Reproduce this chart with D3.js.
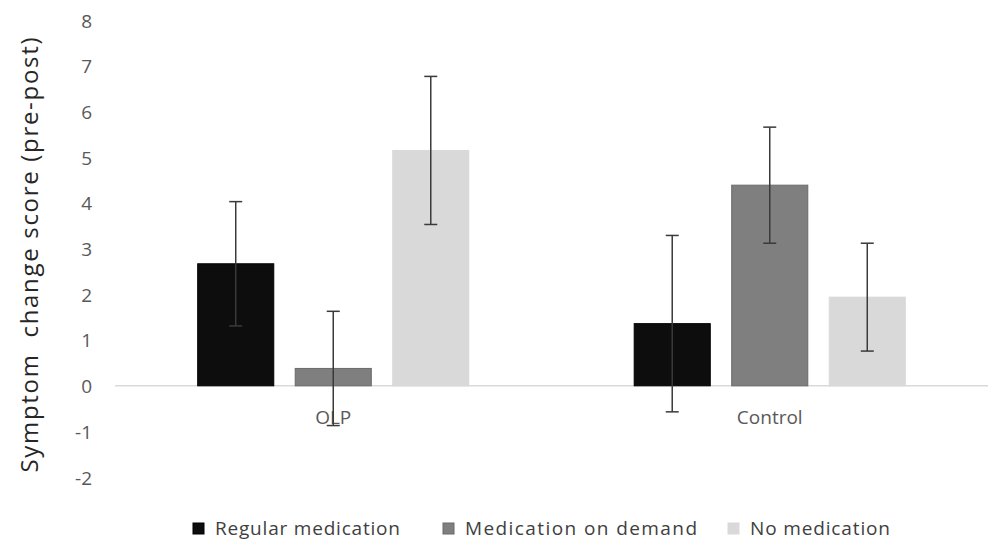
<!DOCTYPE html>
<html>
<head>
<meta charset="utf-8">
<script src="https://cdn.jsdelivr.net/npm/d3@7"></script>
<style>
  html, body { margin: 0; padding: 0; background: #fff; }
  svg { display: block; font-family: "Open Sans", "Noto Sans", sans-serif; }
</style>
</head>
<body>
<svg id="chart" width="989" height="542"></svg>
<script>
const categories = ["OLP", "Control"];
const seriesNames = ["Regular medication", "Medication on demand", "No medication"];
const means = [
  [2.67, 0.38, 5.15],
  [1.36, 4.39, 1.94]
];
const errors = [
  [1.36, 1.25, 1.62],
  [1.93, 1.27, 1.18]
];
const yTicks = [-2, -1, 0, 1, 2, 3, 4, 5, 6, 7, 8];
const yTickLabels = ["-2", "-1", "0", "1", "2", "3", "4", "5", "6", "7", "8"];
const yTitle = "Symptom\u00a0\u00a0change score (pre-post)";
const colors = ["#0d0d0d", "#7f7f7f", "#d9d9d9"];
const strokes = ["#000000", "#6a6a6a", "#d9d9d9"];

const svg = d3.select("#chart");

const x0 = d3.scaleBand().domain(categories).range([115, 988]).paddingInner(0).paddingOuter(0);
const x1 = d3.scaleBand().domain(seriesNames).range([0, x0.bandwidth()]).paddingInner(0.22).paddingOuter(0.848);
const y = d3.scaleLinear().domain([-2, 8]).range([477.2, 20.2]);

// y tick labels
const yAxis = d3.axisLeft(y).tickValues(yTicks).tickSize(0).tickPadding(0)
  .tickFormat((d, i) => yTickLabels[i]);
const gy = svg.append("g").attr("transform", "translate(92,0)").call(yAxis);
gy.select(".domain").remove();
gy.selectAll("text").attr("fill", "#595959").style("font-size", "19px").attr("dy", "0.36em")
  .style("font-family", "'Open Sans', sans-serif");

// zero line
svg.append("line")
  .attr("x1", x0.range()[0]).attr("x2", x0.range()[1])
  .attr("y1", y(0)).attr("y2", y(0))
  .attr("stroke", "#d9d9d9").attr("stroke-width", 1.5);

// category labels
categories.forEach(c => {
  svg.append("text")
    .attr("x", x0(c) + x0.bandwidth() / 2)
    .attr("y", 424)
    .attr("text-anchor", "middle")
    .attr("fill", "#595959")
    .style("font-size", "19px")
    .text(c);
});

// bars
const groups = svg.selectAll("g.grp").data(categories).enter().append("g")
  .attr("class", "grp").attr("transform", c => `translate(${x0(c)},0)`);

groups.each(function(c, ci) {
  const g = d3.select(this);
  seriesNames.forEach((s, si) => {
    const v = means[ci][si];
    g.append("rect")
      .attr("x", x1(s))
      .attr("width", x1.bandwidth())
      .attr("y", Math.min(y(v), y(0)))
      .attr("height", Math.abs(y(v) - y(0)))
      .attr("fill", colors[si])
      .attr("stroke", strokes[si])
      .attr("stroke-width", 1);
  });
});

// error bars
groups.each(function(c, ci) {
  const g = d3.select(this);
  seriesNames.forEach((s, si) => {
    const v = means[ci][si], e = errors[ci][si];
    const cx = x1(s) + x1.bandwidth() / 2;
    const hi = y(v + e), lo = y(v - e);
    g.append("line").attr("x1", cx).attr("x2", cx).attr("y1", hi).attr("y2", lo)
      .attr("stroke", "#3a3a3a").attr("stroke-width", 1.5);
    [hi, lo].forEach(yy => {
      g.append("line").attr("x1", cx - 6.5).attr("x2", cx + 6.5).attr("y1", yy).attr("y2", yy)
        .attr("stroke", "#3a3a3a").attr("stroke-width", 1.5);
    });
  });
});

// y axis title
svg.append("text")
  .attr("transform", "translate(38,255) rotate(-90)")
  .attr("text-anchor", "middle")
  .attr("fill", "#262626")
  .style("font-size", "24px")
  .attr("textLength", 435)
  .attr("lengthAdjust", "spacing")
  .text(yTitle);

// legend
const legendX = [193, 443, 728];
const legendLen = [185, 232, 140];
seriesNames.forEach((s, si) => {
  svg.append("rect").attr("x", legendX[si]).attr("y", 523).attr("width", 11).attr("height", 11)
    .attr("fill", colors[si]).attr("stroke", strokes[si]);
  svg.append("text").attr("x", legendX[si] + 22).attr("y", 535)
    .attr("fill", "#404040").style("font-size", "19px")
    .attr("textLength", legendLen[si]).attr("lengthAdjust", "spacing")
    .text(s);
});
</script>
</body>
</html>
